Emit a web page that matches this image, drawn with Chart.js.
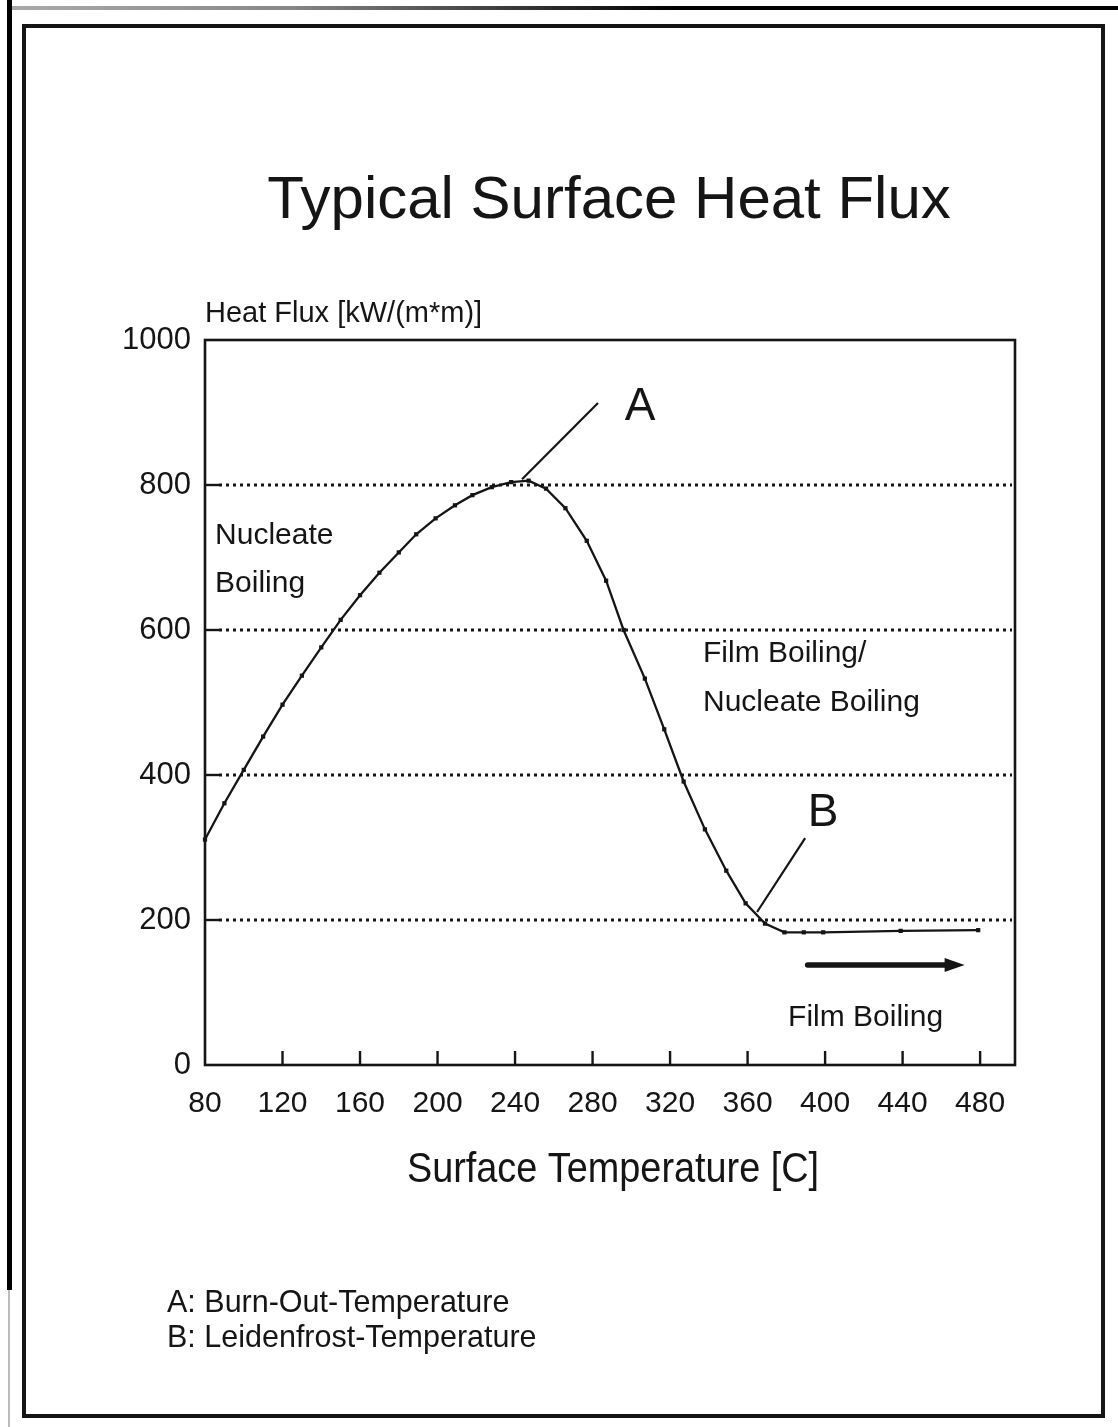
<!DOCTYPE html>
<html><head><meta charset="utf-8">
<script src="https://cdn.jsdelivr.net/npm/chart.js@4.4.1/dist/chart.umd.min.js"></script>
<style>html,body{margin:0;padding:0;background:#fff;overflow:hidden}canvas{display:block}</style>
</head><body>
<canvas id="c" width="1118" height="1427"></canvas>
<script>
// ---- data ----
const temperatures = [80,90,100,110,120,130,140,150,160,170,180,189,199,209,218,228,238,247,256,266,277,287,296,307,317,327,338,349,359,369,379,389,399,439,479];
const heatFlux     = [311,361,407,453,497,537,576,614,648,679,707,732,754,772,786,797,804,806,795,768,723,668,600,533,463,391,325,268,223,195,183,183,183,185,186];
const xTickValues  = [80,120,160,200,240,280,320,360,400,440,480];
const yTickValues  = [0,200,400,600,800,1000];
const gridValues   = [200,400,600,800];
const titleText = 'Typical Surface Heat Flux';
const yTitleText = 'Heat Flux [kW/(m*m)]';
const xTitleText = 'Surface Temperature [C]';
const footnotes = ['A: Burn-Out-Temperature', 'B: Leidenfrost-Temperature'];
const regionLabels = ['Nucleate', 'Boiling', 'Film Boiling/', 'Nucleate Boiling', 'Film Boiling'];
const markerLabels = ['A', 'B'];

// ---- annotation anchors (data coordinates) ----
const regionAnchors = [[85.2,718.6],[85.2,652.4],[337,555.9],[337,488.3],[380.9,53.8]];
const markerAnchors = [[304.5,889.7],[399,329.7]];
const leaderLines = [[[243.6,808],[282.8,913]], [[364.9,211],[389.7,313]]];
const arrowSpan = [[391,138],[472,138]];

const FONT = '"Liberation Sans", Arial, Helvetica, sans-serif';
const INK = '#151515';

const decor = {
  id: 'decor',
  beforeDraw(chart) {
    const ctx = chart.ctx;
    ctx.save();
    ctx.fillStyle = '#fff';
    ctx.fillRect(0, 0, chart.width, chart.height);
    ctx.restore();
  },
  beforeDatasetsDraw(chart) {
    const {ctx, chartArea: a, scales: {x, y}} = chart;
    ctx.save();
    ctx.strokeStyle = INK;
    ctx.lineWidth = 3;
    ctx.setLineDash([3, 4]);
    gridValues.forEach(v => {
      const py = y.getPixelForValue(v);
      ctx.beginPath(); ctx.moveTo(a.left + 14, py); ctx.lineTo(a.right - 3, py); ctx.stroke();
    });
    ctx.setLineDash([]);
    ctx.lineWidth = 2.4;
    gridValues.forEach(v => {
      const py = y.getPixelForValue(v);
      ctx.beginPath(); ctx.moveTo(a.left, py); ctx.lineTo(a.left + 14, py); ctx.stroke();
    });
    xTickValues.slice(1).forEach(v => {
      const px = x.getPixelForValue(v);
      ctx.beginPath(); ctx.moveTo(px, a.bottom); ctx.lineTo(px, a.bottom - 14); ctx.stroke();
    });
    // plot box
    ctx.lineWidth = 2.6;
    ctx.strokeRect(a.left, a.top, a.right - a.left, a.bottom - a.top);
    ctx.restore();
  },
  afterDraw(chart) {
    const {ctx, scales: {x, y}} = chart;
    const P = (p) => [x.getPixelForValue(p[0]), y.getPixelForValue(p[1])];
    ctx.save();
    // page frame
    ctx.strokeStyle = INK;
    ctx.lineWidth = 4;
    ctx.strokeRect(24, 26, 1079, 1390);
    ctx.fillStyle = '#000';
    ctx.fillRect(7, 0, 5, 1290);
    ctx.fillStyle = '#bbb';
    ctx.fillRect(8, 1290, 2, 137);
    const g = ctx.createLinearGradient(10, 0, 1118, 0);
    g.addColorStop(0, '#aaa'); g.addColorStop(0.25, '#888'); g.addColorStop(0.6, '#000'); g.addColorStop(1, '#000');
    ctx.fillStyle = g;
    ctx.fillRect(12, 6, 1106, 4);

    ctx.fillStyle = INK;
    ctx.textBaseline = 'alphabetic';
    // title
    ctx.font = '60px ' + FONT;
    ctx.textAlign = 'center';
    ctx.fillText(titleText, 609, 218);
    // y title
    ctx.font = '29px ' + FONT;
    ctx.textAlign = 'left';
    ctx.fillText(yTitleText, 205, 322);
    // x title (slightly condensed)
    ctx.save();
    ctx.translate(613, 1182);
    ctx.scale(0.88, 1);
    ctx.font = '43px ' + FONT;
    ctx.textAlign = 'center';
    ctx.fillText(xTitleText, 0, 0);
    ctx.restore();
    // footnotes
    ctx.font = '30.5px ' + FONT;
    ctx.textAlign = 'left';
    ctx.fillText(footnotes[0], 167, 1312);
    ctx.fillText(footnotes[1], 167, 1347);
    // region labels
    ctx.font = '30px ' + FONT;
    regionLabels.forEach((t, i) => {
      const [px, py] = P(regionAnchors[i]);
      ctx.fillText(t, px, py);
    });
    // markers A / B
    ctx.font = '46px ' + FONT;
    ctx.textAlign = 'center';
    markerLabels.forEach((t, i) => {
      const [px, py] = P(markerAnchors[i]);
      ctx.fillText(t, px, py);
    });
    // leader lines
    ctx.strokeStyle = INK;
    ctx.lineWidth = 2.2;
    leaderLines.forEach(l => {
      const a0 = P(l[0]), a1 = P(l[1]);
      ctx.beginPath(); ctx.moveTo(a0[0], a0[1]); ctx.lineTo(a1[0], a1[1]); ctx.stroke();
    });
    // arrow
    const s0 = P(arrowSpan[0]), s1 = P(arrowSpan[1]);
    ctx.lineWidth = 5.5;
    ctx.lineCap = 'round';
    ctx.beginPath(); ctx.moveTo(s0[0], s0[1]); ctx.lineTo(s1[0] - 14, s1[1]); ctx.stroke();
    ctx.fillStyle = INK;
    ctx.beginPath();
    ctx.moveTo(s1[0], s1[1]);
    ctx.lineTo(s1[0] - 20, s1[1] - 7);
    ctx.lineTo(s1[0] - 20, s1[1] + 7);
    ctx.closePath(); ctx.fill();
    ctx.restore();
  }
};

new Chart(document.getElementById('c'), {
  type: 'line',
  data: {
    datasets: [{
      data: temperatures.map((t, i) => ({x: t, y: heatFlux[i]})),
      borderColor: INK,
      borderWidth: 2.3,
      backgroundColor: INK,
      pointStyle: 'rect',
      pointRadius: 3,
      pointBorderWidth: 0,
      pointBackgroundColor: INK,
      tension: 0,
      clip: false,
      fill: false
    }]
  },
  options: {
    responsive: false,
    animation: false,
    devicePixelRatio: 1,
    layout: {padding: {top: 340, right: 103, left: 0, bottom: 0}},
    plugins: {legend: {display: false}, tooltip: {enabled: false}, title: {display: false}},
    scales: {
      x: {
        type: 'linear', min: 80, max: 498,
        afterBuildTicks: s => { s.ticks = xTickValues.map(v => ({value: v})); },
        afterFit: s => { s.height = 362; },
        grid: {display: false, drawTicks: false},
        border: {display: false},
        ticks: {color: INK, font: {family: FONT, size: 30}, padding: 21, maxRotation: 0, autoSkip: false,
                callback: v => String(v)}
      },
      y: {
        type: 'linear', min: 0, max: 1000,
        afterBuildTicks: s => { s.ticks = yTickValues.map(v => ({value: v})); },
        afterFit: s => { s.width = 205; },
        grid: {display: false, drawTicks: false},
        border: {display: false},
        ticks: {color: INK, font: {family: FONT, size: 31}, padding: 14, callback: v => String(v)}
      }
    }
  },
  plugins: [decor]
});
</script>
</body></html>
